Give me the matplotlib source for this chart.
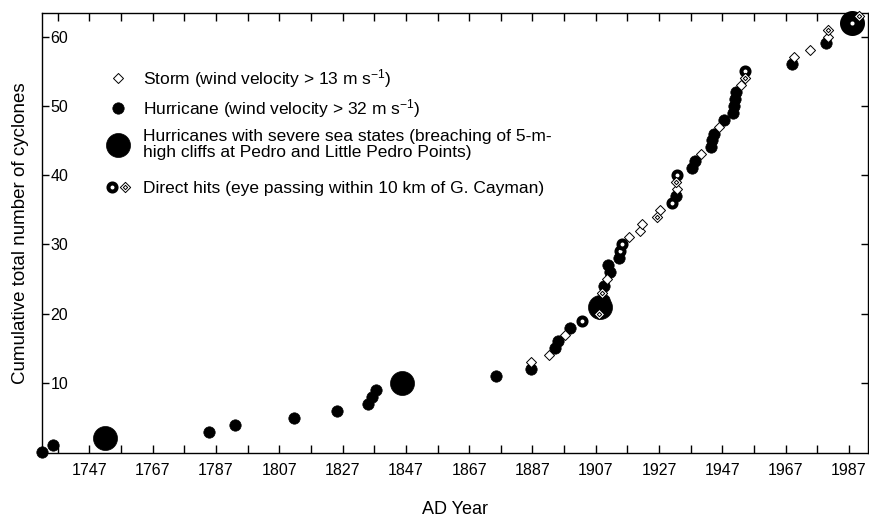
import numpy as np
import matplotlib
matplotlib.use('Agg')
import matplotlib.pyplot as plt
from matplotlib.path import Path
from matplotlib.lines import Line2D
from matplotlib.legend_handler import HandlerTuple

# cumulative number of cyclones, by category (year, running count)
hurricane_year = [1732, 1735.5, 1784.8, 1793, 1811.7, 1825.3, 1835.1, 1836.4, 1837.6,
                  1875.5, 1886.4, 1894, 1895, 1898.7, 1909.6, 1909.5, 1911.6, 1911,
                  1914.2, 1932.4, 1937.4, 1938.2, 1943.3, 1943.8, 1944.2, 1947.4,
                  1950.4, 1950.6, 1951, 1951.2, 1969, 1979.6]
hurricane_n = [0, 1, 3, 4, 5, 6, 7, 8, 9, 11, 12, 15, 16, 18, 22, 24, 26, 27, 28, 37,
               41, 42, 44, 45, 46, 48, 49, 50, 51, 52, 56, 59]

severe_year = [1751.9, 1845.8, 1908.4]
severe_n = [2, 10, 21]

severe_hit_year = [1988]
severe_hit_n = [62]

storm_year = [1886.4, 1892.1, 1897.4, 1910.5, 1917.4, 1921.1, 1921.6, 1927.4, 1932.7,
              1940.4, 1945.9, 1953, 1969.5, 1974.8, 1980.3]
storm_n = [13, 14, 17, 25, 31, 32, 33, 35, 38, 43, 47, 53, 57, 58, 60]

hit_hurricane_year = [1902.6, 1914.7, 1915.3, 1931.1, 1932.7, 1954.3]
hit_hurricane_n = [19, 29, 30, 36, 40, 55]

hit_storm_year = [1908.1, 1909.1, 1926.4, 1932.2, 1954.3, 1980.3, 1990.3]
hit_storm_n = [20, 23, 34, 39, 54, 61, 63]

x_labels = [str(y) for y in range(1747, 1988, 20)]

REG = ['Liberation Sans', 'DejaVu Sans']
NARROW = ['Liberation Sans Narrow', 'Liberation Sans', 'DejaVu Sans']
plt.rcParams['font.family'] = REG
plt.rcParams['mathtext.fontset'] = 'custom'
plt.rcParams['mathtext.rm'] = 'Liberation Sans'
plt.rcParams['mathtext.it'] = 'Liberation Sans:italic'


def diamond(inner=0.0):
    verts = [(0, 1), (1, 0), (0, -1), (-1, 0), (0, 1)]
    codes = [Path.MOVETO, Path.LINETO, Path.LINETO, Path.LINETO, Path.CLOSEPOLY]
    if inner:
        verts += [(x * inner, y * inner) for x, y in verts]
        codes += codes
    return Path(verts, codes)


storm_style = dict(ls='none', marker=diamond(), ms=7.2, mfc='white', mec='black', mew=0.7)
hit_storm_style = dict(ls='none', marker=diamond(0.42), ms=7.4, mfc='white', mec='black', mew=0.7)
hurricane_style = dict(ls='none', marker='o', ms=8.2, mfc='black', mec='black', mew=0.5)
severe_style = dict(ls='none', marker='o', ms=17.3, mfc='black', mec='black', mew=0.5)
ring_style = dict(ls='none', marker='o', ms=5.8, mfc='white', mec='black', mew=2.9)
severe_hit_style = dict(ls='none', marker='o', ms=10.6, mfc='white', mec='black', mew=7.4)

fig = plt.figure(figsize=(8.69, 5.17), dpi=100)
ax = fig.add_axes([0.0483, 0.1238, 0.9505, 0.8511])

ax.plot(severe_year, severe_n, clip_on=False, zorder=3, **severe_style)
ax.plot(severe_hit_year, severe_hit_n, clip_on=False, zorder=3, **severe_hit_style)
ax.plot(hurricane_year, hurricane_n, clip_on=False, zorder=4, **hurricane_style)
ax.plot(hit_hurricane_year, hit_hurricane_n, clip_on=False, zorder=5, **ring_style)
ax.plot(storm_year, storm_n, clip_on=False, zorder=6, **storm_style)
ax.plot(hit_storm_year, hit_storm_n, clip_on=False, zorder=7, **hit_storm_style)

ax.set_xlim(1732, 1993)
ax.set_ylim(-0.1, 63.4)

ax.set_xticks(range(1747, 1988, 20))
ax.set_xticklabels(x_labels, family=NARROW, fontsize=11.5)
ax.set_xticks(range(1737, 1993, 20), minor=True)
ax.set_yticks(range(10, 61, 10))
ax.set_yticklabels([str(v) for v in range(10, 61, 10)], fontsize=11.5, ha='left')
ax.tick_params(axis='x', which='both', direction='in', top=True, length=6, width=1, pad=7)
ax.tick_params(axis='y', direction='in', right=True, length=5, width=1, pad=-6)
for s in ax.spines.values():
    s.set_linewidth(1.0)

ax.set_xlabel('AD Year', family=NARROW, fontsize=13, labelpad=17)
ax.set_ylabel('Cumulative total number of cyclones', family=NARROW, fontsize=13.5, labelpad=9)

# legend, built as three blocks so each row sits where it should
h_storm = Line2D([], [], **storm_style)
h_hurr = Line2D([], [], **hurricane_style)
h_severe = Line2D([], [], **severe_style)
h_ring = Line2D([], [], **ring_style)
h_hit = Line2D([], [], **hit_storm_style)
leg_opts = dict(loc='upper left', frameon=False, fontsize=12.5, handlelength=1.5,
                handletextpad=0.7, borderpad=0, borderaxespad=0)

leg1 = ax.legend([h_storm, h_hurr],
                 ['Storm (wind velocity > 13 m s$^{-1}$)',
                  'Hurricane (wind velocity > 32 m s$^{-1}$)'],
                 bbox_to_anchor=(0.0764, 0.877), labelspacing=0.4, **leg_opts)
ax.add_artist(leg1)

leg2 = ax.legend([h_severe],
                 ['Hurricanes with severe sea states (breaching of 5-m-\n'
                  'high cliffs at Pedro and Little Pedro Points)'],
                 bbox_to_anchor=(0.0764, 0.736), **leg_opts)
for t in leg2.get_texts():
    t.set_linespacing(1.1)
ax.add_artist(leg2)

ax.legend([(h_ring, h_hit)], ['Direct hits (eye passing within 10 km of G. Cayman)'],
          bbox_to_anchor=(0.0764, 0.618),
          handler_map={tuple: HandlerTuple(ndivide=None, pad=0)}, **leg_opts)

fig.savefig('out.png', dpi=100)
